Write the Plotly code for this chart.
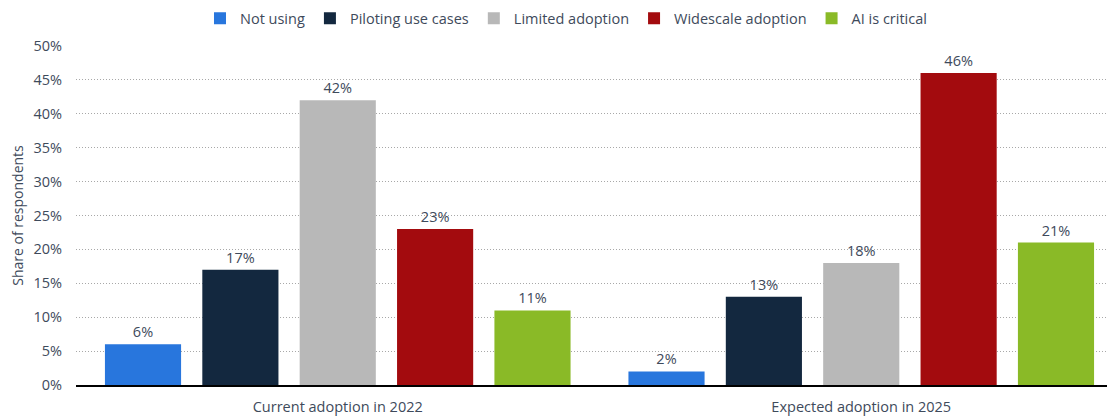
import plotly.graph_objects as go

categories = ["Current adoption in 2022", "Expected adoption in 2025"]
series_names = ["Not using", "Piloting use cases", "Limited adoption", "Widescale adoption", "AI is critical"]
values = {
    "Not using": [6, 2],
    "Piloting use cases": [17, 13],
    "Limited adoption": [42, 18],
    "Widescale adoption": [23, 46],
    "AI is critical": [11, 21],
}
colors = ["#2876dd", "#13283f", "#b8b8b8", "#a30b0e", "#8aba27"]
tick_vals = [0, 5, 10, 15, 20, 25, 30, 35, 40, 45, 50]
tick_text = [f"{v}%" for v in tick_vals]

font_family = "Open Sans, sans-serif"
text_color = "#3e4a5b"
fs = 14.5

fig = go.Figure()
for name, col in zip(series_names, colors):
    fig.add_trace(go.Bar(
        name=name, x=categories, y=values[name],
        marker=dict(color=col, line=dict(width=0)),
        text=[f"{v}%" for v in values[name]],
        textposition="outside",
        textfont=dict(family=font_family, size=fs, color=text_color),
        cliponaxis=False,
    ))

fig.update_layout(
    width=1115, height=419,
    margin=dict(l=68, r=0, t=38, b=42, autoexpand=False),
    barmode="group",
    bargap=0.07,
    bargroupgap=0.218,
    plot_bgcolor="white", paper_bgcolor="white",
    font=dict(family=font_family, size=fs, color=text_color),
    legend=dict(orientation="h", x=0.468, xanchor="center", y=1.082, yanchor="middle",
                font=dict(size=14.5, color=text_color), traceorder="normal",
                bgcolor="rgba(0,0,0,0)", itemclick=False, tracegroupgap=0),
    showlegend=True,
)
fig.update_xaxes(range=[-0.5, 1.5], showline=True, linecolor="black", linewidth=2, ticks="",
                 automargin=False, ticklabelstandoff=8, tickfont=dict(size=fs, color=text_color))
fig.update_yaxes(range=[0, 50], tickvals=tick_vals, ticktext=tick_text,
                 showgrid=True, gridcolor="#a8a8a8", griddash="1px,2px", gridwidth=1,
                 zeroline=False, ticks="", ticklabelstandoff=13, automargin=False,
                 tickfont=dict(size=fs, color=text_color),
                 title=dict(text="Share of respondents", font=dict(size=14, color=text_color), standoff=6))

fig.write_html("out.html")
